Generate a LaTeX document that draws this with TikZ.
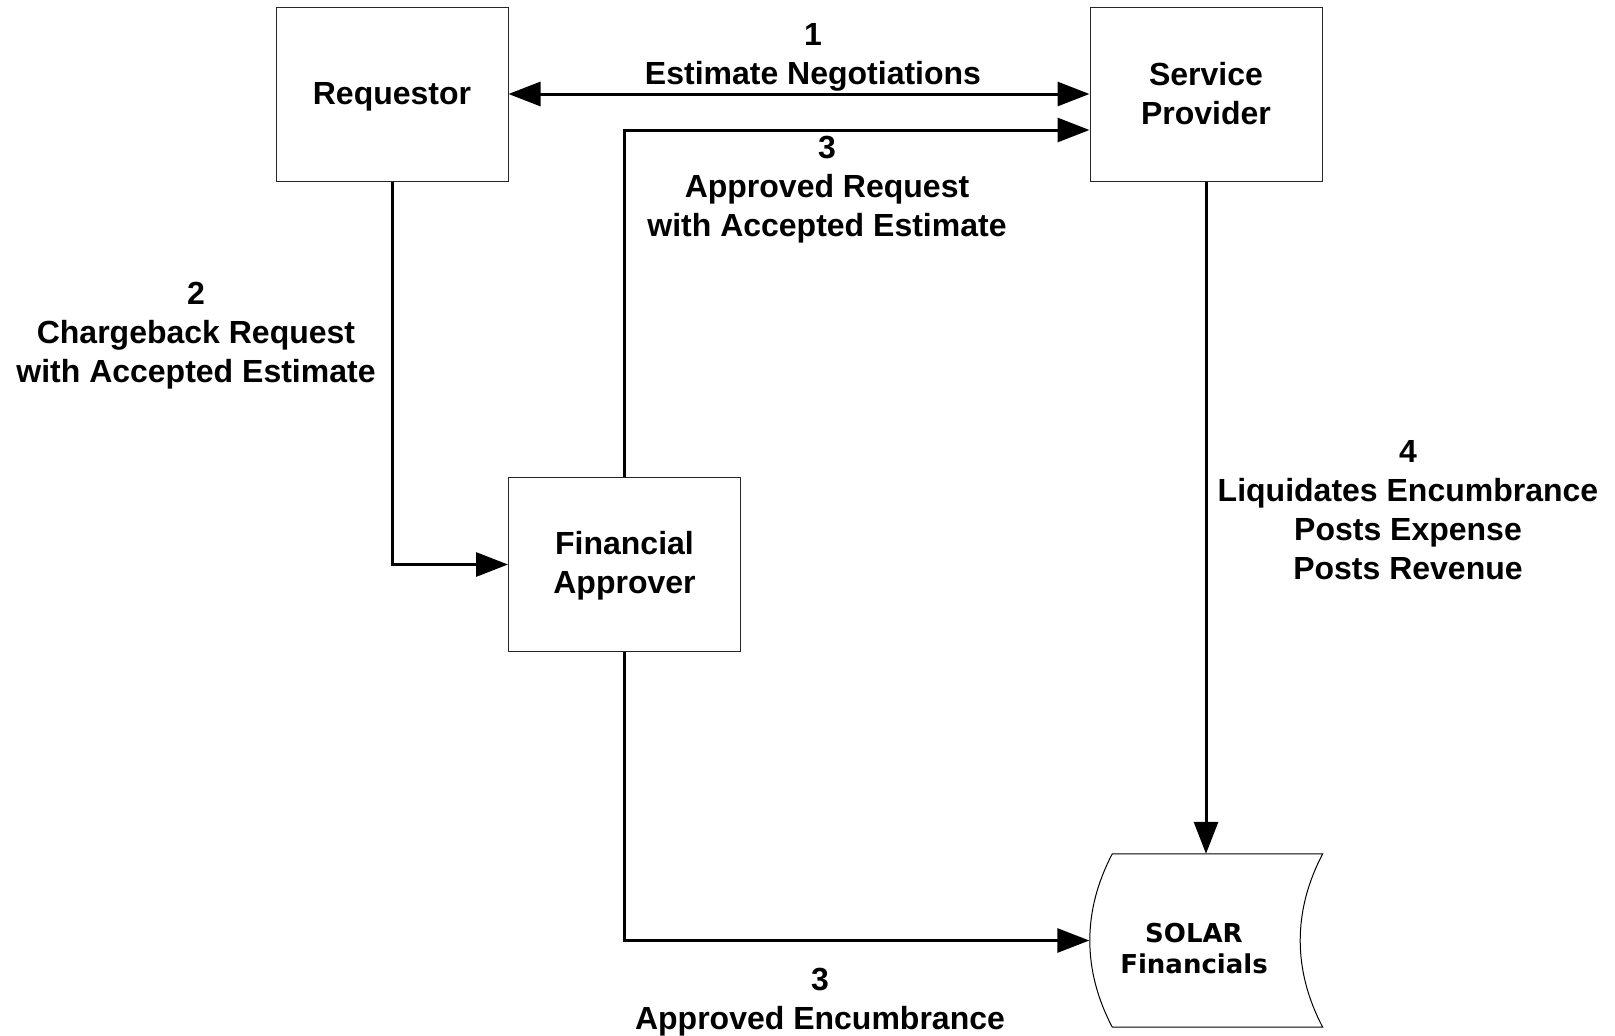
\documentclass[tikz,border=0pt]{standalone}
\usepackage{fontspec}
\setmainfont{Liberation Sans}
\newfontfamily\verdanalike{DejaVu Sans}
\usetikzlibrary{arrows.meta,calc}
\begin{document}
\begin{tikzpicture}[x=1pt,y=-1pt,
  box/.style={draw=black!85,line width=1pt,rectangle,minimum width=232,minimum height=174,inner sep=0},
  boxtxt/.style={align=center,inner sep=0,font=\bfseries\fontsize{32}{39}\selectfont},
  lbl/.style={align=center,inner sep=0,font=\bfseries\fontsize{32}{39}\selectfont},
  flow/.style={line width=3pt,-{Triangle[length=32,width=24]}},
  bflow/.style={line width=3pt,{Triangle[length=32,width=24]}-{Triangle[length=32,width=24]}},
  solarline/.style={draw=black,line width=1pt}]
\fill[white] (0,0) rectangle (1615,1036);
\useasboundingbox (0,0) rectangle (1615,1036);

\node[box] (req) at (392,94) {};
\node[box] (sp) at (1206,94) {};
\node[box] (fa) at (624.5,564.5) {};
\node[boxtxt] (reqt) at (392,97) {Requestor};
\node[boxtxt] (spt) at (1206,94) {Service\\Provider};
\node[boxtxt] (fat) at (624.5,566) {Financial\\Approver};
\node[rectangle,minimum width=233,minimum height=173,inner sep=0] (solar) at (1206,940.5) {};
\node[align=center,inner sep=0,font=\verdanalike\bfseries\fontsize{26}{31}\selectfont] (solartxt) at (1194,949) {SOLAR\\Financials};

% SOLAR stored-data shape
\coordinate (stl) at ($(solar.north west)+(23,0)$);
\coordinate (sbl) at ($(solar.south west)+(23,0)$);
\coordinate (str) at (solar.north east);
\coordinate (sbr) at (solar.south east);
\draw[solarline] (stl) -- (str)
  .. controls ($(str)+(-30,57)$) and ($(sbr)+(-30,-57)$) .. (sbr)
  -- (sbl)
  .. controls ($(sbl)+(-30,-57)$) and ($(stl)+(-30,57)$) .. (stl) -- cycle;

% connectors
\draw[bflow] (req.east) -- (sp.west |- req.east);
\coordinate (c3) at (fa.north |- 0,130);
\draw[flow] (fa.north) -- (c3) -- (sp.west |- c3);
\draw[flow] (req.south) |- (fa.west);
\coordinate (c3b) at (fa.south |- solar.west);
\draw[flow] (fa.south) -- (c3b) -- (solar.west);
\draw[flow] (sp.south) -- (sp.south |- solar.north);

% labels
\node[lbl] (l1) at (813,57) {1\\Estimate Negotiations};
\node[lbl] (l3a) at (827,190) {3\\Approved Request\\with Accepted Estimate};
\node[lbl] (l2) at (196,336) {2\\Chargeback Request\\with Accepted Estimate};
\node[lbl] (l4) at (1408,510) {4\\Liquidates Encumbrance\\Posts Expense\\Posts Revenue};
\node[lbl] (l3b) at (820,1002) {3\\Approved Encumbrance};
\end{tikzpicture}
\end{document}
